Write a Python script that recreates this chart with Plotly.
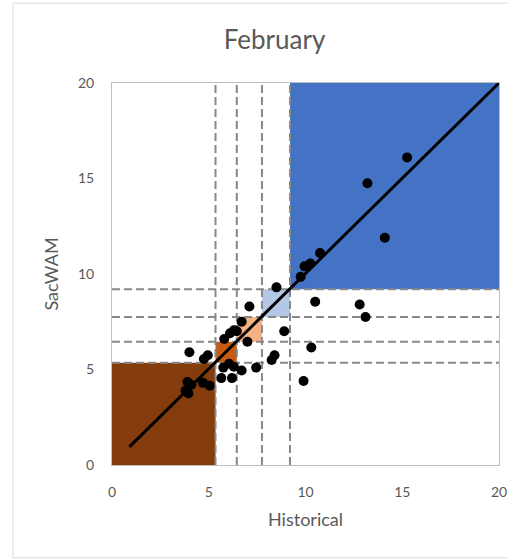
import plotly.graph_objects as go

# Monthly flow comparison for February: historical vs SacWAM
historical = [3.8, 3.95, 3.9, 4.1, 4.7, 5.05, 4.0, 4.75, 4.95,
              5.65, 6.2, 5.75, 6.05, 6.3, 6.7, 7.45, 8.25, 8.4,
              5.8, 6.1, 6.3, 6.45, 6.7, 7.0, 7.1, 8.5, 8.9,
              9.75, 9.95, 10.25, 10.75, 10.5, 12.8, 13.1, 10.3, 9.9,
              14.1, 13.2, 15.25]
sacwam = [3.9, 3.75, 4.35, 4.2, 4.3, 4.15, 5.9, 5.55, 5.75,
          4.55, 4.55, 5.1, 5.3, 5.15, 4.95, 5.1, 5.5, 5.75,
          6.6, 6.9, 7.05, 7.0, 7.5, 6.45, 8.3, 9.3, 7.0,
          9.85, 10.4, 10.55, 11.1, 8.55, 8.4, 7.75, 6.15, 4.4,
          11.9, 14.75, 16.1]

# Trend line end points
fit_x = [0.9, 20]
fit_y = [0.95, 20]

# Category thresholds (same on both axes) and band colours
thresholds = [5.35, 6.45, 7.75, 9.2]
band_edges = [0, 5.35, 6.45, 7.75, 9.2, 20]
band_colors = ["#843c0c", "#c55a11", "#f4b183", "#b4c7e7", "#4472c4"]

axis_max = 20
tick_vals = [0, 5, 10, 15, 20]

FONT = "Lato"
GREY_TXT = "#595959"

fig = go.Figure()

shapes = []
# Diagonal category boxes
for i, col in enumerate(band_colors):
    lo, hi = band_edges[i], band_edges[i + 1]
    shapes.append(dict(type="rect", xref="x", yref="y", x0=lo, x1=hi, y0=lo, y1=hi,
                       fillcolor=col, line=dict(width=0), layer="below"))

# Outer chart frame
shapes.append(dict(type="rect", xref="paper", yref="paper",
                   x0=-0.256, x1=1.3, y0=-0.243, y1=1.209,
                   line=dict(color="#d9d9d9", width=1), fillcolor="rgba(0,0,0,0)",
                   layer="below"))

# Dashed threshold lines across the full plot
for t in thresholds:
    fig.add_trace(go.Scatter(x=[t, t], y=[0, axis_max], mode="lines",
                             line=dict(color="#888888", width=2, dash="8px,4px"),
                             hoverinfo="skip", showlegend=False))
    fig.add_trace(go.Scatter(x=[0, axis_max], y=[t, t], mode="lines",
                             line=dict(color="#888888", width=2, dash="8px,4px"),
                             hoverinfo="skip", showlegend=False))

# Trend line
fig.add_trace(go.Scatter(x=fit_x, y=fit_y, mode="lines",
                         line=dict(color="black", width=3), showlegend=False))

# Observations
fig.add_trace(go.Scatter(x=historical, y=sacwam, mode="markers",
                         marker=dict(color="black", size=10), showlegend=False))

axis_common = dict(
    range=[0, axis_max], tickvals=tick_vals, showgrid=False, zeroline=False,
    showline=True, linecolor="#bfbfbf", linewidth=1, mirror=True,
    tickfont=dict(family=FONT, size=14, color=GREY_TXT),
    ticks="", fixedrange=True, automargin=False,
)

fig.update_layout(
    width=508, height=560,
    margin=dict(l=112, r=9, t=83, b=95),
    paper_bgcolor="white", plot_bgcolor="white",
    shapes=shapes,
    title=dict(text="February", x=0.42, xanchor="center", xref="paper",
               y=1 - 40 / 560, yanchor="middle", yref="container",
               font=dict(family=FONT, size=26, color=GREY_TXT)),
    xaxis=dict(**axis_common, ticklabelstandoff=14,
               title=dict(text="Historical", standoff=14,
                          font=dict(family=FONT, size=18, color=GREY_TXT))),
    yaxis=dict(**axis_common, ticklabelstandoff=14,
               title=dict(text="SacWAM", standoff=14,
                          font=dict(family=FONT, size=18, color=GREY_TXT))),
)

fig.write_html("out.html")
